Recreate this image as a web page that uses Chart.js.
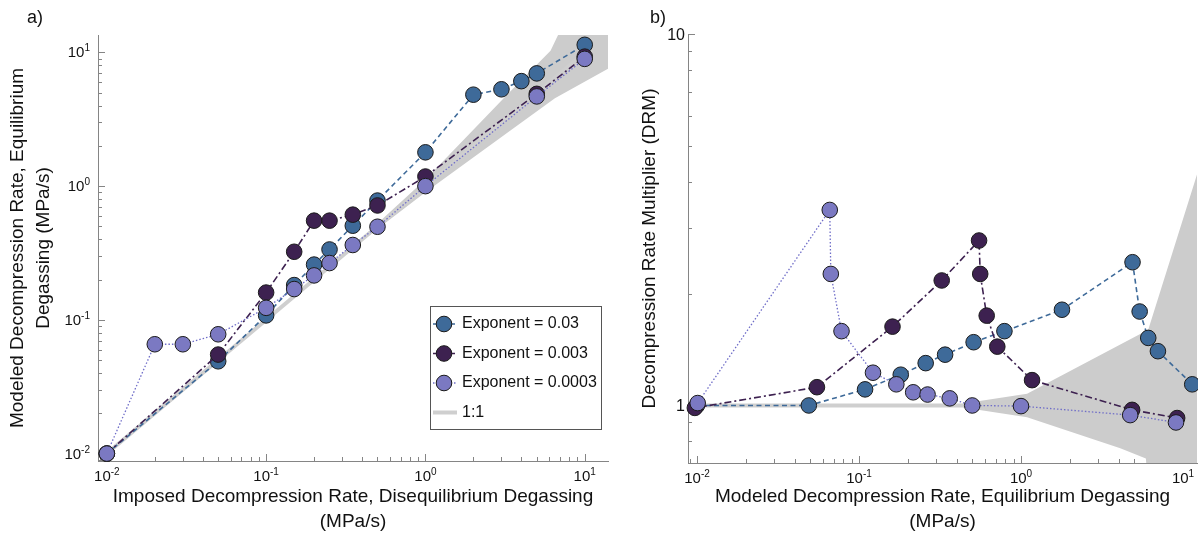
<!DOCTYPE html>
<html>
<head>
<meta charset="utf-8">
<script src="https://cdn.jsdelivr.net/npm/chart.js@4.4.1/dist/chart.umd.min.js"></script>
<style>
  body { margin: 0; background: #fff; width: 1198px; height: 535px; position: relative; overflow: hidden; font-family: "Liberation Sans", Arial, sans-serif; }
  #wrapA { position: absolute; left: 0; top: 0; width: 620px; height: 535px; }
  #wrapB { position: absolute; left: 620px; top: 0; width: 578px; height: 535px; }
  .panel { position: absolute; top: 7px; font-size: 18px; color: #111; }
</style>
</head>
<body>
<div id="wrapA"><canvas id="chartA" width="620" height="535"></canvas></div>
<div id="wrapB"><canvas id="chartB" width="578" height="535"></canvas></div>
<div class="panel" style="left:27px">a)</div>
<div class="panel" style="left:650px">b)</div>
<script>
// ---- panel a) imposed vs modeled decompression rate (MPa/s)
const imposed03 = [0.01, 0.05, 0.1, 0.15, 0.2, 0.25, 0.35, 0.5, 1, 2, 3, 4, 5, 10];
const modeled03 = [0.01, 0.049, 0.108, 0.182, 0.259, 0.336, 0.506, 0.78, 1.79, 4.83, 5.3, 6.1, 6.97, 11.4];
const imposed003 = [0.01, 0.05, 0.1, 0.15, 0.2, 0.25, 0.35, 0.5, 1, 5, 10];
const modeled003 = [0.01, 0.055, 0.16, 0.323, 0.552, 0.552, 0.612, 0.717, 1.18, 4.9, 9.3];
const imposed0003 = [0.01, 0.02, 0.03, 0.05, 0.1, 0.15, 0.2, 0.25, 0.35, 0.5, 1, 5, 10];
const modeled0003 = [0.01, 0.0657, 0.0657, 0.078, 0.123, 0.17, 0.215, 0.266, 0.363, 0.497, 1.0, 4.69, 8.95];
const oneToOneX = [0.01, 10];
const oneToOneY = [0.01, 10];
// grey uncertainty band (outline, upper edge then lower edge)
const bandA_x = [0.3, 1, 3.3, 6.1, 7, 15, 15, 6.5, 3.3, 1, 0.3];
const bandA_y = [0.3, 1.12, 4.9, 10.3, 14.5, 14.5, 7.9, 4.54, 2.53, 0.9, 0.3];

// ---- panel b) modeled rate vs decompression rate multiplier
const rateB03 = [0.01, 0.049, 0.109, 0.181, 0.258, 0.34, 0.51, 0.79, 1.79, 4.88, 5.4, 6.1, 7.0, 11.4];
const drm03 = [1.0, 1.0, 1.105, 1.21, 1.3, 1.37, 1.48, 1.585, 1.81, 2.43, 1.79, 1.52, 1.4, 1.14];
const rateB003 = [0.0097, 0.055, 0.161, 0.324, 0.551, 0.56, 0.614, 0.714, 1.17, 4.85, 9.2];
const drm003 = [0.985, 1.12, 1.63, 2.17, 2.78, 2.26, 1.745, 1.44, 1.17, 0.973, 0.925];
const rateB0003 = [0.0101, 0.066, 0.067, 0.078, 0.122, 0.17, 0.216, 0.265, 0.363, 0.5, 1.0, 4.72, 9.05];
const drm0003 = [1.015, 3.36, 2.26, 1.585, 1.225, 1.14, 1.085, 1.07, 1.045, 1.0, 0.996, 0.942, 0.9];
const unityX = [0.01, 0.5];
const unityY = [1, 1];
const bandB_x = [0.44, 1.09, 6.1, 13, 13, 6.1, 5.9, 4.1, 1.09, 0.44];
const bandB_y = [1.012, 1.075, 1.6, 4.57, 0.6, 0.6, 0.72, 0.767, 0.93, 0.988];

const legendLabels = ["Exponent = 0.03", "Exponent = 0.003", "Exponent = 0.0003", "1:1"];

const FONT = '"Liberation Sans", Arial, sans-serif';

function pts(xs, ys) {
  return xs.map(function (x, i) { return { x: x, y: ys[i] }; });
}

function isPow10(v) {
  const l = Math.log10(v);
  return Math.abs(l - Math.round(l)) < 1e-9;
}

// all 1..9 x 10^n ticks inside the axis range
function logTicks(scale) {
  const out = [];
  for (let e = -3; e <= 2; e++) {
    for (let m = 1; m <= 9; m++) {
      const v = +(m * Math.pow(10, e)).toPrecision(6);
      if (v >= scale.min - 1e-12 && v <= scale.max + 1e-12) out.push({ value: v });
    }
  }
  scale.ticks = out;
}

function seriesStyle(color, lineColor, dash, width, order) {
  return {
    borderColor: lineColor,
    backgroundColor: color,
    borderDash: dash,
    borderWidth: width,
    pointBackgroundColor: color,
    pointBorderColor: "#1b1b1b",
    pointBorderWidth: 1,
    pointRadius: 7.8,
    pointHoverRadius: 7.8,
    tension: 0,
    fill: false,
    clip: false,
    order: order,
  };
}

const BLUE = "#3e6a99";
const DARK = "#3d2150";
const LIGHT = "#7b79c2";

// inward tick marks + tick labels with superscript exponents
const axisDecor = {
  id: "axisDecor",
  beforeDatasetsDraw(chart, args, opts) {
    const ctx = chart.ctx;
    const a = chart.chartArea;
    ctx.save();
    ctx.strokeStyle = "#858585";
    ctx.lineWidth = 1;
    chart.scales.x.ticks.forEach(function (t) {
      const p = Math.round(chart.scales.x.getPixelForValue(t.value)) + 0.5;
      const len = isPow10(t.value) ? 7 : 4;
      ctx.beginPath();
      ctx.moveTo(p, a.bottom);
      ctx.lineTo(p, a.bottom - len);
      ctx.stroke();
    });
    chart.scales.y.ticks.forEach(function (t) {
      const p = Math.round(chart.scales.y.getPixelForValue(t.value)) + 0.5;
      const len = isPow10(t.value) ? 7 : 4;
      ctx.beginPath();
      ctx.moveTo(a.left, p);
      ctx.lineTo(a.left + len, p);
      ctx.stroke();
    });
    ctx.restore();
  },
  afterDraw(chart, args, opts) {
    const ctx = chart.ctx;
    const a = chart.chartArea;
    ctx.save();
    ctx.fillStyle = "#111";
    ctx.textBaseline = "alphabetic";
    function pow(v, x, y, align) {
      const ex = String(Math.round(Math.log10(v)));
      ctx.font = "15px " + FONT;
      const wb = ctx.measureText("10").width;
      ctx.font = "10px " + FONT;
      const we = ctx.measureText(ex).width;
      const x0 = align === "center" ? x - (wb + we) / 2 : x - wb - we;
      ctx.textAlign = "left";
      ctx.font = "15px " + FONT;
      ctx.fillText("10", x0, y);
      ctx.font = "10px " + FONT;
      ctx.fillText(ex, x0 + wb, y - 6);
    }
    chart.scales.x.ticks.forEach(function (t) {
      if (!isPow10(t.value)) return;
      pow(t.value, chart.scales.x.getPixelForValue(t.value), a.bottom + 20, "center");
    });
    chart.scales.y.ticks.forEach(function (t) {
      if (!isPow10(t.value)) return;
      const py = chart.scales.y.getPixelForValue(t.value);
      if (opts.yPlain) {
        ctx.font = "16px " + FONT;
        ctx.textAlign = "right";
        ctx.fillText(String(t.value), a.left - 3, py + 6);
      } else {
        pow(t.value, a.left - 8, py + 5, "right");
      }
    });
    ctx.restore();
  },
};

// boxed legend in the lower right of panel a)
const boxLegend = {
  id: "boxLegend",
  afterDraw(chart, args, opts) {
    if (!opts.show) return;
    const ctx = chart.ctx;
    const items = chart.data.datasets.filter(function (d) { return d.label; });
    ctx.save();
    ctx.fillStyle = "#fff";
    ctx.fillRect(opts.x, opts.y, opts.w, opts.h);
    ctx.strokeStyle = "#555";
    ctx.lineWidth = 1;
    ctx.strokeRect(opts.x + 0.5, opts.y + 0.5, opts.w, opts.h);
    items.forEach(function (d, i) {
      const cy = opts.y + 18 + i * 29.5;
      const x1 = opts.x + 3, x2 = opts.x + 27, cx = opts.x + 14;
      ctx.save();
      ctx.strokeStyle = d.borderColor;
      ctx.lineWidth = d.borderWidth;
      ctx.setLineDash(d.borderDash || []);
      ctx.beginPath();
      ctx.moveTo(x1, cy);
      ctx.lineTo(x2, cy);
      ctx.stroke();
      ctx.restore();
      if (d.pointRadius > 0) {
        ctx.beginPath();
        ctx.arc(cx, cy, d.pointRadius, 0, Math.PI * 2);
        ctx.fillStyle = d.pointBackgroundColor;
        ctx.fill();
        ctx.strokeStyle = d.pointBorderColor;
        ctx.lineWidth = 1;
        ctx.stroke();
      }
      ctx.fillStyle = "#111";
      ctx.font = "16px " + FONT;
      ctx.textAlign = "left";
      ctx.textBaseline = "middle";
      ctx.fillText(d.label, opts.x + 32, cy);
    });
    ctx.restore();
  },
};

function axis(min, max, fitSize, titleText, titlePad) {
  return {
    type: "logarithmic",
    min: min,
    max: max,
    afterBuildTicks: logTicks,
    afterFit: function (scale) {
      if (scale.isHorizontal()) scale.height = fitSize;
      else scale.width = fitSize;
    },
    grid: { display: false },
    border: { display: true, color: "#858585", width: 1 },
    ticks: { display: false },
    title: {
      display: true,
      text: titleText,
      color: "#111",
      font: { family: FONT, size: 19, lineHeight: 1.35 },
      padding: titlePad,
    },
  };
}

Chart.defaults.font.family = FONT;

new Chart(document.getElementById("chartA"), {
  type: "line",
  data: {
    datasets: [
      Object.assign({ label: legendLabels[0], data: pts(imposed03, modeled03) }, seriesStyle(BLUE, BLUE, [5, 3.5], 1.6, 2)),
      Object.assign({ label: legendLabels[1], data: pts(imposed003, modeled003) }, seriesStyle(DARK, DARK, [7, 3, 2, 3], 1.6, 1)),
      Object.assign({ label: legendLabels[2], data: pts(imposed0003, modeled0003) }, seriesStyle(LIGHT, "#6f6dc8", [1.5, 2], 1.3, 0)),
      {
        label: legendLabels[3],
        data: pts(oneToOneX, oneToOneY),
        borderColor: "#cfcfcf",
        borderWidth: 4,
        pointRadius: 0,
        fill: false,
        order: 3,
      },
      {
        data: pts(bandA_x, bandA_y),
        borderWidth: 0,
        borderColor: "rgba(0,0,0,0)",
        backgroundColor: "#cccccc",
        pointRadius: 0,
        fill: "shape",
        clip: 0,
        order: 4,
      },
    ],
  },
  options: {
    responsive: false,
    animation: false,
    devicePixelRatio: 1,
    layout: { autoPadding: false, padding: { top: 35, right: 12, left: 0, bottom: 0 } },
    scales: {
      x: axis(0.0088, 14, 74, ["Imposed Decompression Rate, Disequilibrium Degassing", "(MPa/s)"], { bottom: 0 }),
      y: axis(0.0088, 13.5, 98, ["Modeled Decompression Rate, Equilibrium", "Degassing (MPa/s)"], { top: 5 }),
    },
    plugins: {
      legend: { display: false },
      tooltip: { enabled: false },
      axisDecor: { yPlain: false },
      boxLegend: { show: true, x: 430, y: 306, w: 171, h: 123 },
    },
  },
  plugins: [axisDecor, boxLegend],
});

new Chart(document.getElementById("chartB"), {
  type: "line",
  data: {
    datasets: [
      Object.assign({ label: legendLabels[0], data: pts(rateB03, drm03) }, seriesStyle(BLUE, BLUE, [5, 3.5], 1.6, 2)),
      Object.assign({ label: legendLabels[1], data: pts(rateB003, drm003) }, seriesStyle(DARK, DARK, [7, 3, 2, 3], 1.6, 1)),
      Object.assign({ label: legendLabels[2], data: pts(rateB0003, drm0003) }, seriesStyle(LIGHT, "#6f6dc8", [1.5, 2], 1.3, 0)),
      {
        data: pts(unityX, unityY),
        borderColor: "#cfcfcf",
        borderWidth: 4,
        pointRadius: 0,
        fill: false,
        order: 3,
      },
      {
        data: pts(bandB_x, bandB_y),
        borderWidth: 0,
        borderColor: "rgba(0,0,0,0)",
        backgroundColor: "#cccccc",
        pointRadius: 0,
        fill: "shape",
        clip: 0,
        order: 4,
      },
    ],
  },
  options: {
    responsive: false,
    animation: false,
    devicePixelRatio: 1,
    layout: { autoPadding: false, padding: { top: 34, right: 1, left: 0, bottom: 0 } },
    scales: {
      x: axis(0.0088, 12.2, 72, ["Modeled Decompression Rate, Equilibrium Degassing", "(MPa/s)"], { bottom: 0 }),
      y: axis(0.7, 10, 68, "Decompression Rate Multiplier (DRM)", { top: 17 }),
    },
    plugins: {
      legend: { display: false },
      tooltip: { enabled: false },
      axisDecor: { yPlain: true },
      boxLegend: { show: false },
    },
  },
  plugins: [axisDecor, boxLegend],
});
</script>
</body>
</html>
